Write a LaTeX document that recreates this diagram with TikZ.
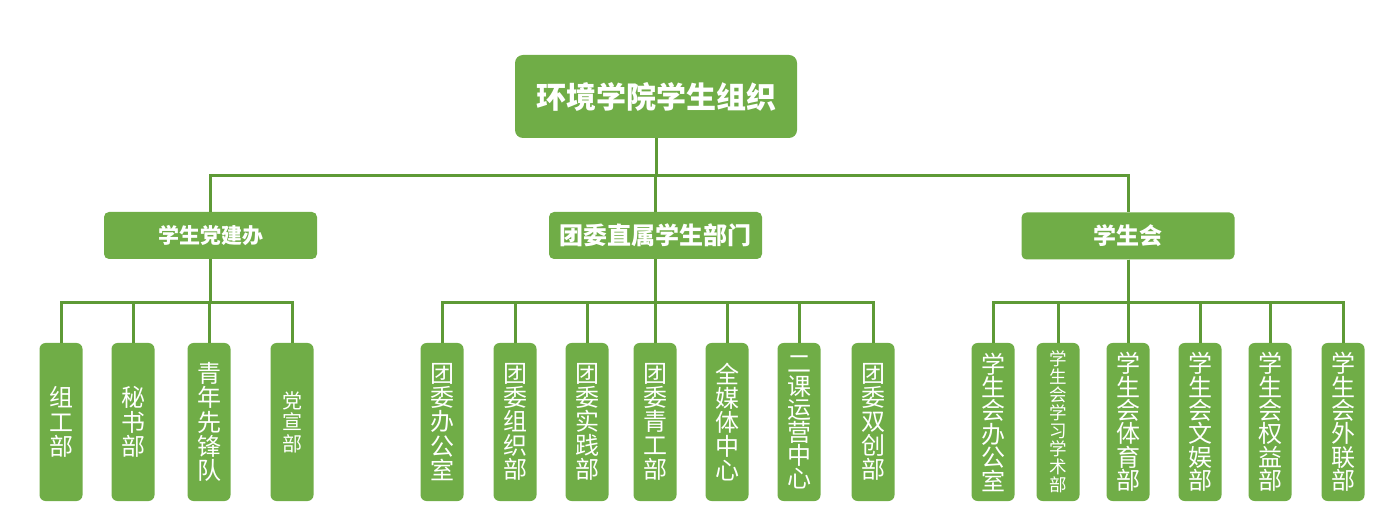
\documentclass[tikz,border=0pt]{standalone}
\usepackage{fontspec}
\setmainfont{Noto Sans CJK SC}
\definecolor{orggreen}{HTML}{70AD47}
\definecolor{linkgreen}{HTML}{5E9A36}

\begin{document}
\begin{tikzpicture}[x=1pt, y=-1pt,
  every node/.style = {fill=orggreen, text=white, inner sep=0pt, align=center},
  rootbox/.style = {rounded corners=8pt, minimum width=282pt, minimum height=83pt,
    font=\bfseries\fontsize{30}{36}\selectfont},
  groupbox/.style = {rounded corners=5pt, minimum width=213pt, minimum height=47pt,
    font=\bfseries\fontsize{22}{26}\selectfont},
  unitbox/.style = {rounded corners=6pt, minimum width=43pt, minimum height=158pt,
    execute at begin node={\lineskiplimit=-100pt}},
  link/.style = {draw=linkgreen, line width=3pt}]
\useasboundingbox (0,0) rectangle (1392,526);

% Define the top two levels
\node[rootbox] (org) at (656,96.5) {环境学院学生组织};
\node[groupbox, font=\bfseries\fontsize{21}{26}\selectfont] (party) at (210.5,235.5) {学生党建办};
\node[groupbox, font=\bfseries\fontsize{24}{28}\selectfont] (league) at (655.5,235.5) {团委直属学生部门};
\node[groupbox, font=\bfseries\fontsize{23}{28}\selectfont] (union) at (1128,236) {学生会};
\foreach \g in {party, league, union}
  \draw[link] (org.south) -- ++(0,37) -| (\g.north);

% Departments under each group
\foreach \x/\name/\fs/\bs/\txt in {61/pa/24/24.2/{组\\工\\部}, 133/pb/24/24.2/{秘\\书\\部},
    209/pc/24/24.2/{青\\年\\先\\锋\\队}, 292/pd/20/21.5/{党\\宣\\部}} {
  \node[unitbox, font=\fontsize{\fs}{\bs}\selectfont] (\name) at (\x,422) {\txt};
  \draw[link] (party.south) -- ++(0,43) -| (\name.north);
}
\foreach \x/\name/\bs/\txt in {442/la/24.1/{团\\委\\办\\公\\室}, 515/lb/24.1/{团\\委\\组\\织\\部},
    587/lc/24.1/{团\\委\\实\\践\\部}, 655/ld/24.1/{团\\委\\青\\工\\部}, 727/le/24.1/{全\\媒\\体\\中\\心},
    799/lf/23/{二\\课\\运\\营\\中\\心}, 873/lg/24.1/{团\\委\\双\\创\\部}} {
  \node[unitbox, font=\fontsize{24}{\bs}\selectfont] (\name) at (\x,422) {\txt};
  \draw[link] (league.south) -- ++(0,43) -| (\name.north);
}
\foreach \x/\name/\fs/\bs/\txt in {993/ua/24/23.4/{学\\生\\会\\办\\公\\室},
    1058/ub/17.5/18/{学\\生\\会\\学\\习\\学\\术\\部}, 1128/uc/24/23.4/{学\\生\\会\\体\\育\\部},
    1200/ud/24/23.4/{学\\生\\会\\文\\娱\\部}, 1270/ue/24/23.4/{学\\生\\会\\权\\益\\部},
    1343/uf/24/23.4/{学\\生\\会\\外\\联\\部}} {
  \node[unitbox, font=\fontsize{\fs}{\bs}\selectfont] (\name) at (\x,422) {\txt};
  \draw[link] (union.south) -- ++(0,43) -| (\name.north);
}
\end{tikzpicture}
\end{document}
